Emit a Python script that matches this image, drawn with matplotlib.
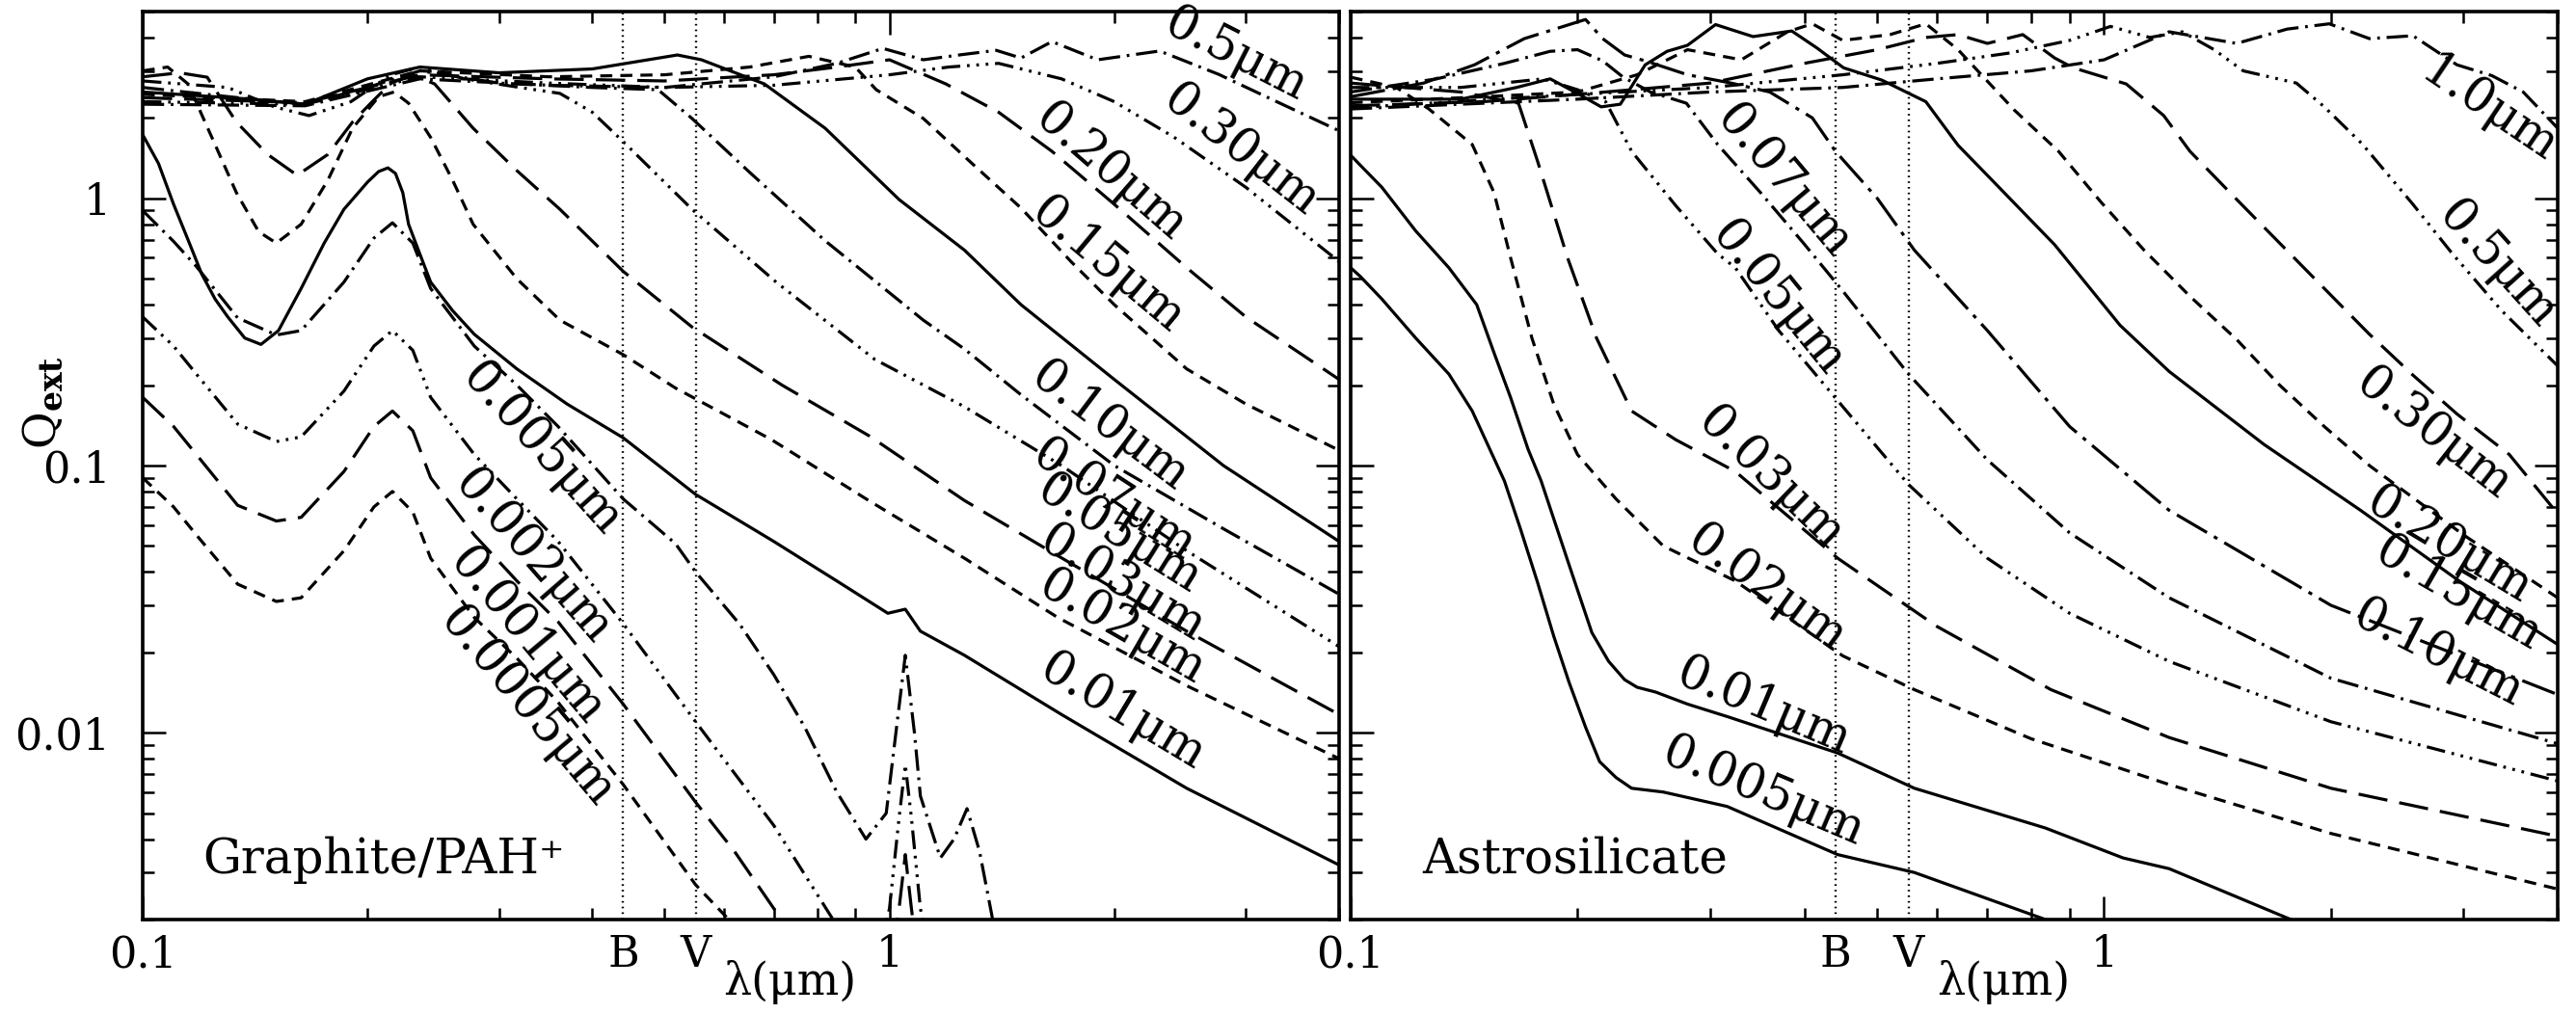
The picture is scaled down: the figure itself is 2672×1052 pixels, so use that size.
import matplotlib
matplotlib.use('Agg')
import matplotlib.pyplot as plt
import numpy as np
from matplotlib.ticker import LogLocator, NullFormatter, FixedLocator, FixedFormatter

plt.rcParams['font.family'] = ['DejaVu Serif', 'DejaVu Sans']
plt.rcParams['mathtext.fontset'] = 'dejavuserif'
plt.rcParams['lines.scale_dashes'] = False

# ---------------- Graphite / PAH+ (left panel) ----------------
g0005_lam = [0.1, 0.11, 0.118, 0.134, 0.151, 0.163, 0.186, 0.204, 0.216, 0.23, 0.243, 0.278, 0.317, 0.36, 0.44, 0.55, 0.62, 0.7]
g0005_q = [0.09, 0.07, 0.055, 0.036, 0.031, 0.032, 0.048, 0.07, 0.08, 0.067, 0.045, 0.027, 0.019, 0.013, 0.0064, 0.0027, 0.0019, 0.0011]

g001_lam = [0.1, 0.11, 0.118, 0.134, 0.151, 0.163, 0.186, 0.204, 0.216, 0.23, 0.243, 0.278, 0.317, 0.36, 0.44, 0.55, 0.62, 0.7, 0.8, 1.0, 1.03, 1.05, 1.07, 1.1]
g001_q = [0.18, 0.14, 0.11, 0.071, 0.062, 0.064, 0.095, 0.14, 0.16, 0.135, 0.09, 0.055, 0.037, 0.026, 0.0128, 0.0055, 0.0036, 0.0022, 0.0013, 0.0012, 0.0022, 0.0035, 0.0022, 0.0012]

g002_lam = [0.1, 0.11, 0.118, 0.134, 0.151, 0.163, 0.186, 0.204, 0.216, 0.23, 0.243, 0.278, 0.317, 0.36, 0.44, 0.55, 0.7, 0.85, 0.95, 1.0, 1.03, 1.05, 1.07, 1.1, 1.15]
g002_q = [0.36, 0.28, 0.22, 0.143, 0.123, 0.128, 0.19, 0.28, 0.32, 0.27, 0.18, 0.11, 0.075, 0.052, 0.0256, 0.011, 0.0045, 0.0019, 0.0012, 0.0022, 0.0048, 0.0076, 0.0048, 0.0022, 0.0012]

g005_lam = [0.1, 0.11, 0.118, 0.134, 0.151, 0.163, 0.186, 0.204, 0.216, 0.23, 0.243, 0.278, 0.317, 0.36, 0.44, 0.517, 0.55, 0.63, 0.7, 0.77, 0.85, 0.93, 0.99, 1.02, 1.05, 1.08, 1.1, 1.17, 1.22, 1.27, 1.32, 1.37, 1.42]
g005_q = [0.90, 0.69, 0.556, 0.357, 0.308, 0.32, 0.486, 0.71, 0.81, 0.68, 0.46, 0.28, 0.20, 0.14, 0.075, 0.051, 0.040, 0.0255, 0.0165, 0.0105, 0.0060, 0.0040, 0.0050, 0.010, 0.0195, 0.010, 0.0058, 0.0034, 0.0040, 0.0052, 0.0036, 0.0021, 0.0012]

g01_lam = [0.1, 0.105, 0.11, 0.115, 0.12, 0.125, 0.13, 0.137, 0.144, 0.152, 0.163, 0.175, 0.186, 0.2, 0.207, 0.213, 0.218, 0.223, 0.227, 0.235, 0.243, 0.26, 0.278, 0.317, 0.37, 0.44, 0.55, 0.7, 0.85, 0.995, 1.05, 1.1, 1.26, 1.7, 2.5, 4.0]
g01_q = [1.73, 1.35, 0.95, 0.70, 0.52, 0.42, 0.36, 0.30, 0.284, 0.32, 0.46, 0.68, 0.91, 1.15, 1.26, 1.30, 1.24, 1.05, 0.80, 0.62, 0.486, 0.38, 0.31, 0.23, 0.17, 0.127, 0.078, 0.052, 0.037, 0.028, 0.029, 0.024, 0.0195, 0.0117, 0.0062, 0.0032]

g02_lam = [0.1, 0.108, 0.115, 0.125, 0.1335, 0.143, 0.151, 0.163, 0.177, 0.191, 0.207, 0.217, 0.227, 0.243, 0.26, 0.277, 0.317, 0.362, 0.44, 0.517, 0.695, 0.94, 1.26, 1.68, 2.5, 4.0]
g02_q = [3.0, 3.1, 2.68, 1.59, 1.05, 0.75, 0.68, 0.80, 1.17, 1.83, 2.4, 2.5, 2.27, 1.69, 1.17, 0.80, 0.50, 0.35, 0.26, 0.195, 0.125, 0.0737, 0.045, 0.027, 0.015, 0.008]

g03_lam = [0.1, 0.112, 0.122, 0.1335, 0.147, 0.161, 0.177, 0.191, 0.202, 0.215, 0.23, 0.246, 0.277, 0.317, 0.362, 0.44, 0.544, 0.718, 0.94, 1.26, 1.68, 2.5, 4.0]
g03_q = [2.85, 2.95, 2.84, 1.93, 1.46, 1.22, 1.46, 1.93, 2.27, 2.7, 2.9, 2.68, 1.83, 1.27, 0.91, 0.533, 0.33, 0.20, 0.129, 0.074, 0.046, 0.024, 0.0117]

g05_lam = [0.1, 0.13, 0.15, 0.167, 0.19, 0.215, 0.235, 0.27, 0.32, 0.362, 0.40, 0.44, 0.544, 0.705, 0.955, 1.26, 1.7, 2.5, 4.0]
g05_q = [2.75, 2.6, 2.2, 2.04, 2.3, 2.9, 3.1, 2.8, 2.6, 2.47, 2.1, 1.63, 0.91, 0.486, 0.25, 0.166, 0.10, 0.048, 0.021]

g07_lam = [0.1, 0.14, 0.165, 0.2, 0.235, 0.3, 0.4, 0.49, 0.544, 0.65, 0.82, 1.11, 1.26, 1.5, 2.0, 2.8, 4.0]
g07_q = [2.6, 2.35, 2.25, 2.6, 3.0, 2.7, 2.6, 2.55, 1.99, 1.25, 0.694, 0.35, 0.273, 0.184, 0.10, 0.058, 0.033]

g10_lam = [0.1, 0.14, 0.165, 0.2, 0.235, 0.3, 0.4, 0.52, 0.56, 0.68, 0.82, 1.03, 1.26, 1.5, 2.0, 2.8, 4.0]
g10_q = [2.5, 2.35, 2.25, 2.8, 3.1, 2.95, 3.05, 3.44, 3.3, 2.68, 1.83, 0.99, 0.64, 0.40, 0.21, 0.10, 0.052]

g15_lam = [0.1, 0.165, 0.235, 0.35, 0.5, 0.65, 0.78, 0.9, 0.96, 1.11, 1.29, 1.5, 1.75, 2.0, 2.5, 3.0, 4.0]
g15_q = [2.45, 2.3, 3.0, 2.85, 2.9, 3.1, 3.4, 3.1, 2.55, 1.99, 1.35, 0.92, 0.58, 0.40, 0.23, 0.17, 0.114]

g20_lam = [0.1, 0.165, 0.235, 0.35, 0.5, 0.7, 0.85, 1.0, 1.19, 1.4, 1.65, 2.0, 2.5, 3.0, 4.0]
g20_q = [2.38, 2.28, 2.9, 2.8, 2.75, 2.9, 3.1, 3.3, 2.68, 2.1, 1.5, 0.95, 0.55, 0.36, 0.21]

g30_lam = [0.1, 0.165, 0.235, 0.35, 0.5, 0.7, 1.0, 1.2, 1.4, 1.7, 2.0, 2.4, 3.0, 4.0]
g30_q = [2.3, 2.25, 2.85, 2.7, 2.6, 2.65, 2.9, 3.1, 3.2, 2.8, 2.3, 1.7, 1.1, 0.58]

g50_lam = [0.1, 0.165, 0.235, 0.35, 0.5, 0.7, 0.85, 0.98, 1.11, 1.25, 1.39, 1.5, 1.65, 1.9, 2.3, 2.76, 3.3, 4.0]
g50_q = [2.25, 2.22, 2.8, 2.65, 2.6, 2.85, 3.2, 3.64, 3.3, 3.45, 3.58, 3.35, 3.86, 3.3, 3.56, 2.91, 2.3, 1.79]

# ---------------- Astrosilicate (right panel) ----------------
s0005_lam = [0.1, 0.103, 0.11, 0.122, 0.135, 0.145, 0.16, 0.168, 0.177, 0.186, 0.195, 0.205, 0.214, 0.225, 0.236, 0.26, 0.316, 0.443, 0.56, 0.836]
s0005_q = [0.55, 0.51, 0.42, 0.30, 0.22, 0.16, 0.0875, 0.058, 0.0366, 0.023, 0.0154, 0.0105, 0.0078, 0.0068, 0.0062, 0.0060, 0.0053, 0.0035, 0.0030, 0.002]

s001_lam = [0.1, 0.103, 0.11, 0.122, 0.135, 0.147, 0.155, 0.163, 0.172, 0.179, 0.195, 0.209, 0.22, 0.231, 0.24, 0.254, 0.28, 0.316, 0.443, 0.56, 0.836, 1.06, 1.22, 1.77]
s001_q = [1.45, 1.33, 1.1, 0.755, 0.55, 0.40, 0.264, 0.18, 0.115, 0.0875, 0.0424, 0.0237, 0.0185, 0.0158, 0.0148, 0.0142, 0.0128, 0.0115, 0.0084, 0.0062, 0.0044, 0.0034, 0.0031, 0.002]

s002_lam = [0.1, 0.115, 0.127, 0.145, 0.155, 0.163, 0.174, 0.186, 0.2, 0.225, 0.26, 0.324, 0.45, 0.56, 0.8, 1.22, 2.0, 4.0]
s002_q = [2.84, 2.6, 2.16, 1.59, 1.05, 0.60, 0.30, 0.17, 0.11, 0.075, 0.05, 0.037, 0.0194, 0.0145, 0.0095, 0.0064, 0.0042, 0.0026]

s003_lam = [0.1, 0.14, 0.167, 0.177, 0.194, 0.212, 0.236, 0.27, 0.324, 0.443, 0.6, 0.85, 1.22, 2.0, 4.0]
s003_q = [2.7, 2.5, 2.27, 1.38, 0.60, 0.30, 0.16, 0.125, 0.095, 0.045, 0.025, 0.0145, 0.0096, 0.0062, 0.0041]

s005_lam = [0.1, 0.14, 0.18, 0.2, 0.218, 0.236, 0.27, 0.307, 0.324, 0.37, 0.443, 0.55, 0.7, 0.9, 1.22, 2.0, 4.0]
s005_q = [2.6, 2.6, 2.8, 2.55, 2.3, 1.5, 0.94, 0.62, 0.55, 0.32, 0.175, 0.085, 0.045, 0.028, 0.0185, 0.011, 0.0066]

s007_lam = [0.1, 0.13, 0.16, 0.184, 0.2, 0.216, 0.23, 0.25, 0.279, 0.307, 0.35, 0.399, 0.45, 0.55, 0.7, 0.9, 1.22, 2.0, 4.0]
s007_q = [2.5, 2.8, 3.2, 3.55, 3.6, 3.27, 2.84, 2.5, 2.27, 1.59, 1.05, 0.68, 0.45, 0.22, 0.105, 0.056, 0.032, 0.016, 0.0091]

s010_lam = [0.1, 0.125, 0.146, 0.17, 0.205, 0.216, 0.231, 0.246, 0.28, 0.32, 0.36, 0.41, 0.44, 0.5, 0.56, 0.7, 0.9, 1.22, 2.0, 4.0]
s010_q = [2.4, 2.7, 3.16, 3.96, 4.67, 3.96, 3.44, 3.27, 2.9, 2.7, 2.5, 2.0, 1.5, 1.0, 0.64, 0.32, 0.14, 0.068, 0.03, 0.0139]

s015_lam = [0.1, 0.14, 0.166, 0.184, 0.2, 0.215, 0.228, 0.246, 0.263, 0.28, 0.305, 0.342, 0.385, 0.416, 0.451, 0.507, 0.58, 0.64, 0.71, 0.86, 1.05, 1.22, 1.63, 2.19, 2.96, 4.0]
s015_q = [2.35, 2.35, 2.6, 2.8, 2.47, 2.2, 2.25, 3.16, 3.55, 3.74, 4.47, 4.03, 4.23, 3.65, 3.08, 2.77, 2.3, 1.58, 1.17, 0.67, 0.335, 0.225, 0.12, 0.068, 0.037, 0.0214]

s020_lam = [0.1, 0.15, 0.2, 0.24, 0.28, 0.33, 0.38, 0.41, 0.45, 0.52, 0.58, 0.64, 0.76, 0.87, 0.99, 1.13, 1.3, 1.5, 1.71, 1.96, 2.25, 3.0, 4.0]
s020_q = [2.28, 2.4, 2.5, 2.9, 3.6, 3.3, 4.2, 4.5, 3.9, 4.1, 4.5, 3.6, 2.14, 1.5, 0.97, 0.64, 0.43, 0.296, 0.2, 0.14, 0.10, 0.055, 0.032]

s030_lam = [0.1, 0.15, 0.2, 0.3, 0.4, 0.5, 0.58, 0.64, 0.7, 0.78, 0.86, 0.91, 1.07, 1.2, 1.3, 1.5, 1.71, 1.96, 2.25, 2.57, 2.94, 3.45, 4.0]
s030_q = [2.22, 2.3, 2.45, 2.7, 3.2, 3.6, 4.0, 4.1, 3.8, 4.1, 3.35, 3.08, 2.68, 2.04, 1.5, 0.99, 0.68, 0.46, 0.31, 0.218, 0.156, 0.11, 0.066]

s050_lam = [0.1, 0.2, 0.3, 0.45, 0.6, 0.75, 0.9, 1.02, 1.15, 1.27, 1.4, 1.53, 1.8, 1.96, 2.2, 2.57, 2.9, 3.37, 4.0]
s050_q = [2.18, 2.45, 2.6, 2.9, 3.2, 3.5, 3.9, 4.4, 4.0, 4.2, 3.6, 3.0, 2.7, 2.2, 1.6, 0.95, 0.62, 0.38, 0.236]

s100_lam = [0.1, 0.2, 0.3, 0.45, 0.6, 0.8, 1.0, 1.22, 1.5, 1.75, 1.99, 2.25, 2.57, 2.94, 3.27, 3.6, 4.0]
s100_q = [2.16, 2.35, 2.5, 2.6, 2.8, 3.0, 3.3, 4.2, 3.8, 4.3, 4.5, 3.96, 4.06, 3.16, 2.88, 2.5, 1.83]

band_B = 0.44
band_V = 0.55

# ---------------- styles ----------------
SOLID = '-'
SHORT = (0, (9, 6))
LONG = (0, (22, 9))
DOT = (0, (16, 5, 2, 5))
DDOT = (0, (14, 5, 2, 5, 2, 5, 2, 5))
LDOT = (0, (26, 6, 3, 6))
LW = 2.3

left_curves = [
    (g0005_lam, g0005_q, SHORT), (g001_lam, g001_q, LONG), (g002_lam, g002_q, DDOT),
    (g005_lam, g005_q, DOT), (g01_lam, g01_q, SOLID), (g02_lam, g02_q, SHORT),
    (g03_lam, g03_q, LONG), (g05_lam, g05_q, DDOT), (g07_lam, g07_q, DOT),
    (g10_lam, g10_q, SOLID), (g15_lam, g15_q, SHORT), (g20_lam, g20_q, LONG),
    (g30_lam, g30_q, DDOT), (g50_lam, g50_q, DOT),
]
right_curves = [
    (s0005_lam, s0005_q, SOLID), (s001_lam, s001_q, SOLID), (s002_lam, s002_q, SHORT),
    (s003_lam, s003_q, LONG), (s005_lam, s005_q, DDOT), (s007_lam, s007_q, DOT),
    (s010_lam, s010_q, LDOT), (s015_lam, s015_q, SOLID), (s020_lam, s020_q, SHORT),
    (s030_lam, s030_q, LONG), (s050_lam, s050_q, DDOT), (s100_lam, s100_q, DOT),
]

# label text, position (lambda, Q) and rotation
left_labels = [
    ('0.5\u03bcm', 2.91, 3.43, -27), ('0.30\u03bcm', 2.96, 1.51, -38),
    ('0.20\u03bcm', 1.98, 1.25, -41), ('0.15\u03bcm', 1.96, 0.56, -40),
    ('0.10\u03bcm', 1.97, 0.14, -37), ('0.07\u03bcm', 2.0, 0.074, -33),
    ('0.05\u03bcm', 2.03, 0.055, -32), ('0.03\u03bcm', 2.05, 0.036, -31),
    ('0.02\u03bcm', 2.05, 0.0248, -30), ('0.01\u03bcm', 2.05, 0.0119, -31),
    ('0.005\u03bcm', 0.342, 0.115, -48), ('0.002\u03bcm', 0.333, 0.0455, -49),
    ('0.001\u03bcm', 0.327, 0.0228, -50), ('0.0005\u03bcm', 0.327, 0.0125, -50),
]
right_labels = [
    ('1.0\u03bcm', 3.24, 2.15, -34), ('0.5\u03bcm', 3.33, 0.565, -48),
    ('0.30\u03bcm', 2.74, 0.131, -38), ('0.20\u03bcm', 2.87, 0.050, -31),
    ('0.15\u03bcm', 2.95, 0.033, -30), ('0.10\u03bcm', 2.78, 0.0197, -27),
    ('0.07\u03bcm', 0.376, 1.16, -50), ('0.05\u03bcm', 0.369, 0.42, -51),
    ('0.03\u03bcm', 0.361, 0.0896, -44), ('0.02\u03bcm', 0.357, 0.0346, -36),
    ('0.01\u03bcm', 0.353, 0.0125, -23), ('0.005\u03bcm', 0.353, 0.006, -23),
]

FS = 32
LFS = 36

fig = plt.figure(figsize=(26.72, 10.52), dpi=100)
ax1 = fig.add_axes([148 / 2672, 98 / 1052, 1241 / 2672, 942 / 1052])
ax2 = fig.add_axes([1401 / 2672, 98 / 1052, 1252 / 2672, 942 / 1052])


def style_axes(ax, show_y):
    ax.set_xscale('log')
    ax.set_yscale('log')
    ax.set_xlim(0.1, 4.0)
    ax.set_ylim(0.002, 5.0)
    ax.xaxis.set_major_locator(FixedLocator([0.1, 1.0]))
    ax.xaxis.set_major_formatter(FixedFormatter(['0.1', '1']))
    ax.xaxis.set_minor_locator(LogLocator(base=10, subs=np.arange(2, 10)))
    ax.xaxis.set_minor_formatter(NullFormatter())
    ax.yaxis.set_major_locator(FixedLocator([0.01, 0.1, 1.0]))
    ax.yaxis.set_major_formatter(FixedFormatter(['0.01', '0.1', '1']))
    ax.yaxis.set_minor_locator(LogLocator(base=10, subs=np.arange(2, 10)))
    ax.yaxis.set_minor_formatter(NullFormatter())
    ax.tick_params(which='both', direction='in', top=True, right=True,
                   width=1.8, labelsize=FS)
    ax.tick_params(which='major', length=17)
    ax.tick_params(which='minor', length=8.5)
    ax.tick_params(axis='x', which='major', pad=11)
    ax.tick_params(axis='y', which='major', pad=24, labelleft=show_y)
    for sp in ax.spines.values():
        sp.set_linewidth(2.6)
    for w in (band_B, band_V):
        ax.axvline(w, color='black', lw=1.7, ls=(0, (1.2, 3.0)), zorder=1)
    tr = ax.get_xaxis_transform()
    ax.text(band_B, -0.016, 'B', transform=tr, ha='center', va='top', fontsize=FS)
    ax.text(band_V, -0.016, 'V', transform=tr, ha='center', va='top', fontsize=FS)
    ax.text(0.735, -0.069, '\u03bb(\u03bcm)', transform=tr, ha='center', va='center', fontsize=33)


style_axes(ax1, True)
style_axes(ax2, False)

for lam, q, ls in left_curves:
    ax1.plot(lam, q, color='black', lw=LW, ls=ls, solid_joinstyle='round', dash_joinstyle='round')
for lam, q, ls in right_curves:
    ax2.plot(lam, q, color='black', lw=LW, ls=ls, solid_joinstyle='round', dash_joinstyle='round')

for txt, x, y, r in left_labels:
    ax1.text(x, y, txt, rotation=r, rotation_mode='anchor', ha='center', va='center', fontsize=LFS)
for txt, x, y, r in right_labels:
    ax2.text(x, y, txt, rotation=r, rotation_mode='anchor', ha='center', va='center', fontsize=LFS)

ax1.text(0.05, 0.051, 'Graphite/PAH\u207a', transform=ax1.transAxes, ha='left', va='baseline', fontsize=36)
ax2.text(0.059, 0.051, 'Astrosilicate', transform=ax2.transAxes, ha='left', va='baseline', fontsize=36)

fig.text(0.017, 0.603, r'Q$_{\mathbf{ext}}$', rotation=90, ha='center', va='center', fontsize=34)

fig.savefig('out.png', dpi=100)
